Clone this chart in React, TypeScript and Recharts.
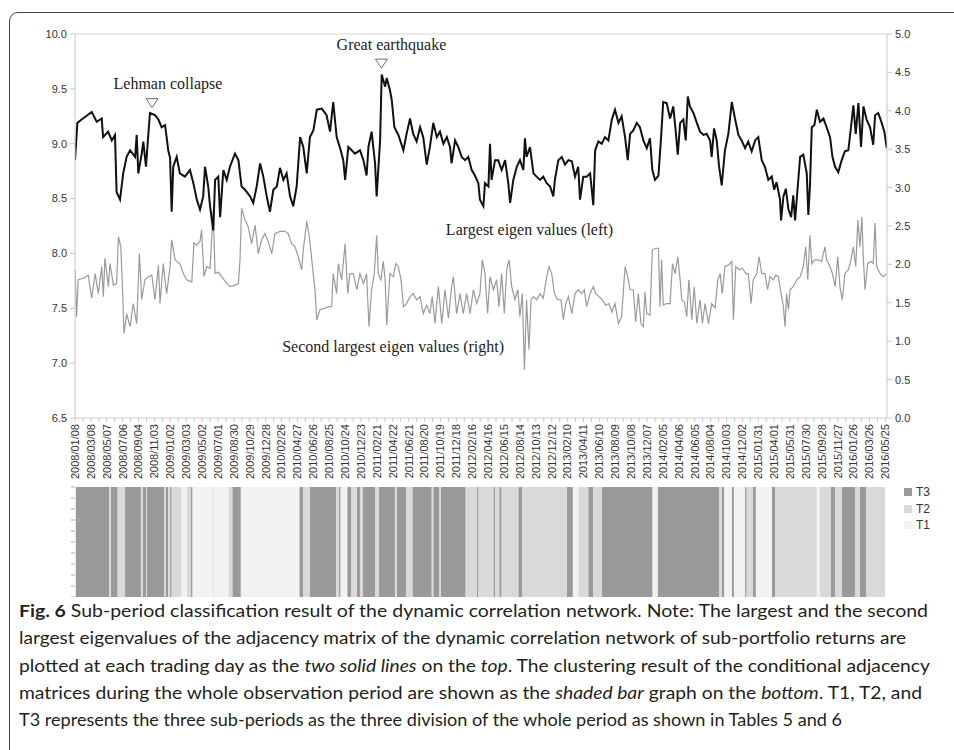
import React from "react"
import {
  LineChart,
  Line,
  ComposedChart,
  Area,
  XAxis,
  YAxis,
  ReferenceLine,
  ReferenceDot,
} from "recharts"

// x axis: calendar days counted from 2008/01/08
const DAY_MAX = 3066

const dateLabels = [
  "2008/01/08", "2008/03/08", "2008/05/07", "2008/07/06", "2008/09/04", "2008/11/03",
  "2009/01/02", "2009/03/03", "2009/05/02", "2009/07/01", "2009/08/30", "2009/10/29",
  "2009/12/28", "2010/02/26", "2010/04/27", "2010/06/26", "2010/08/25", "2010/10/24",
  "2010/12/23", "2011/02/21", "2011/04/22", "2011/06/21", "2011/08/20", "2011/10/19",
  "2011/12/18", "2012/02/16", "2012/04/16", "2012/06/15", "2012/08/14", "2012/10/13",
  "2012/12/12", "2013/02/10", "2013/04/11", "2013/06/10", "2013/08/09", "2013/10/08",
  "2013/12/07", "2014/02/05", "2014/04/06", "2014/06/05", "2014/08/04", "2014/10/03",
  "2014/12/02", "2015/01/31", "2015/04/01", "2015/05/31", "2015/07/30", "2015/09/28",
  "2015/11/27", "2016/01/26", "2016/03/26", "2016/05/25",
]

const leftTicks = [6.5, 7, 7.5, 8, 8.5, 9, 9.5, 10]
const rightTicks = [0, 0.5, 1, 1.5, 2, 2.5, 3, 3.5, 4, 4.5, 5]

// [day, value] largest eigenvalue (left axis)
const largestEigen: [number, number][] = [
  [0, 8.85], [9, 9.19], [30, 9.23], [63, 9.29], [82, 9.2], [101, 9.23], [106, 9.06], [125, 9.11],
  [139, 9.03], [151, 9.08], [157, 8.56], [170, 8.49], [182, 8.73], [195, 8.88], [208, 8.94],
  [227, 8.88], [233, 9.08], [239, 8.73], [252, 8.91], [258, 9.02], [268, 8.79], [277, 9.09],
  [283, 9.28], [302, 9.26], [315, 9.22], [327, 9.15], [340, 9.17], [346, 9.06], [352, 8.94],
  [359, 8.87], [365, 8.38], [371, 8.79], [384, 8.88], [396, 8.73], [415, 8.7], [434, 8.76],
  [447, 8.64], [460, 8.49], [472, 8.4], [484, 8.52], [491, 8.79], [503, 8.61], [510, 8.43],
  [522, 8.21], [529, 8.67], [541, 8.7], [548, 8.33], [560, 8.76], [573, 8.67], [585, 8.79],
  [604, 8.91], [617, 8.85], [629, 8.61], [642, 8.58], [661, 8.52], [673, 8.46], [686, 8.61],
  [699, 8.82], [711, 8.7], [724, 8.52], [736, 8.38], [749, 8.58], [762, 8.61], [774, 8.78],
  [787, 8.67], [799, 8.73], [812, 8.52], [824, 8.43], [837, 8.61], [850, 9.06], [862, 8.97],
  [875, 8.73], [887, 9.06], [900, 9.12], [913, 9.31], [932, 9.32], [950, 9.26], [963, 9.11],
  [975, 9.38], [988, 9.06], [1001, 8.96], [1013, 8.85], [1020, 8.67], [1032, 8.97], [1045, 8.94],
  [1057, 8.91], [1076, 8.94], [1089, 8.85], [1101, 8.71], [1108, 8.97], [1120, 9.11], [1133, 8.82],
  [1139, 8.52], [1152, 9.03], [1158, 9.63], [1171, 9.52], [1177, 9.6], [1189, 9.49], [1196, 9.4],
  [1206, 9.15], [1221, 9.08], [1240, 8.94], [1252, 9.09], [1265, 9.23], [1277, 9.09], [1290, 9.02],
  [1303, 9.15], [1315, 9.06], [1328, 8.81], [1340, 8.97], [1353, 9.19], [1366, 9.06], [1378, 9.11],
  [1391, 9.0], [1404, 9.06], [1416, 8.97], [1422, 8.82], [1435, 9.03], [1447, 8.97], [1460, 8.88],
  [1473, 8.85], [1485, 8.88], [1498, 8.76], [1510, 8.71], [1523, 8.64], [1529, 8.49], [1542, 8.43],
  [1548, 8.64], [1561, 8.61], [1567, 9.0], [1573, 8.67], [1586, 8.85], [1598, 8.85], [1611, 8.76],
  [1624, 8.85], [1636, 8.64], [1643, 8.46], [1655, 8.67], [1668, 8.79], [1680, 8.85], [1693, 8.76],
  [1699, 9.05], [1705, 8.88], [1718, 8.97], [1731, 8.73], [1743, 8.7], [1756, 8.67], [1768, 8.7],
  [1781, 8.64], [1794, 8.61], [1806, 8.52], [1812, 8.67], [1825, 8.85], [1838, 8.88], [1850, 8.81],
  [1863, 8.85], [1876, 8.84], [1888, 8.7], [1900, 8.79], [1907, 8.49], [1919, 8.7], [1932, 8.7],
  [1945, 8.73], [1957, 8.44], [1964, 8.94], [1976, 9.02], [1989, 9.0], [2001, 9.06], [2014, 9.03],
  [2027, 9.22], [2039, 9.31], [2052, 9.19], [2064, 9.25], [2077, 9.06], [2087, 8.85], [2096, 9.09],
  [2108, 9.12], [2121, 9.19], [2133, 9.15], [2146, 9.03], [2159, 8.96], [2171, 9.05], [2180, 8.76],
  [2190, 8.67], [2203, 8.71], [2213, 9.06], [2221, 9.38], [2234, 9.37], [2247, 9.23], [2259, 9.34],
  [2268, 9.12], [2276, 8.9], [2285, 9.19], [2297, 9.22], [2306, 9.03], [2314, 9.43], [2322, 9.34],
  [2335, 9.28], [2348, 9.19], [2360, 9.11], [2373, 9.08], [2385, 9.09], [2398, 9.03], [2404, 8.88],
  [2413, 9.14], [2423, 9.03], [2432, 8.79], [2442, 8.62], [2454, 8.94], [2467, 9.09], [2480, 9.38],
  [2492, 9.23], [2505, 9.08], [2517, 9.03], [2530, 8.96], [2542, 9.02], [2555, 8.93], [2568, 9.03],
  [2580, 9.06], [2593, 8.85], [2605, 8.79], [2618, 8.67], [2631, 8.7], [2640, 8.58], [2649, 8.65],
  [2662, 8.49], [2666, 8.3], [2675, 8.52], [2684, 8.59], [2694, 8.4], [2704, 8.33], [2712, 8.53],
  [2719, 8.3], [2729, 8.61], [2738, 8.88], [2750, 8.9], [2763, 8.73], [2769, 8.35], [2775, 8.61],
  [2782, 9.15], [2792, 9.17], [2801, 9.31], [2813, 9.2], [2826, 9.23], [2838, 9.15], [2851, 9.06],
  [2860, 8.88], [2870, 8.79], [2882, 8.74], [2895, 8.85], [2907, 8.93], [2920, 8.94], [2930, 9.15],
  [2939, 9.35], [2948, 9.09], [2958, 9.37], [2968, 8.97], [2977, 9.34], [2989, 9.22], [3002, 9.15],
  [3014, 8.99], [3021, 9.26], [3033, 9.28], [3046, 9.19], [3056, 9.11], [3065, 8.96],
]

// [day, value] second largest eigenvalue (right axis)
const secondEigen: [number, number][] = [
  [0, 1.93], [6, 1.32], [12, 1.8], [31, 1.82], [50, 1.86], [63, 1.56], [76, 1.88], [88, 1.62],
  [101, 1.97], [107, 1.58], [113, 2.08], [126, 1.71], [132, 2.01], [145, 1.73], [157, 1.75],
  [164, 2.36], [173, 2.23], [180, 1.62], [185, 1.1], [195, 1.36], [208, 1.19], [220, 1.49],
  [233, 1.23], [243, 2.14], [252, 1.54], [264, 1.8], [277, 1.84], [290, 1.86], [302, 1.54],
  [315, 1.99], [321, 1.49], [333, 2.01], [346, 1.62], [359, 1.97], [365, 2.32], [378, 2.06],
  [396, 2.01], [409, 1.88], [422, 1.8], [441, 1.77], [449, 2.28], [460, 2.25], [472, 2.3],
  [478, 2.45], [487, 1.84], [497, 1.97], [510, 1.95], [522, 2.71], [529, 1.88], [541, 1.9],
  [554, 1.84], [573, 1.75], [585, 1.71], [604, 1.73], [617, 1.75], [623, 2.06], [629, 2.73],
  [642, 2.58], [654, 2.49], [667, 2.27], [680, 2.51], [692, 2.14], [705, 2.32], [717, 2.4],
  [730, 2.3], [743, 2.14], [755, 2.4], [774, 2.43], [793, 2.43], [805, 2.4], [818, 2.27],
  [831, 2.23], [843, 2.1], [856, 1.93], [862, 2.19], [875, 2.56], [885, 2.36], [894, 2.06],
  [906, 1.67], [913, 1.28], [925, 1.41], [944, 1.43], [957, 1.45], [969, 1.45], [975, 1.88],
  [988, 1.62], [994, 2.01], [1007, 1.8], [1020, 2.27], [1030, 1.62], [1038, 1.88], [1051, 1.88],
  [1064, 1.67], [1076, 1.88], [1089, 1.75], [1101, 1.88], [1110, 1.19], [1120, 1.67], [1130, 1.88],
  [1139, 2.38], [1145, 1.88], [1155, 1.8], [1164, 2.04], [1171, 1.8], [1177, 1.21], [1189, 1.88],
  [1202, 1.84], [1211, 2.01], [1221, 1.97], [1231, 1.8], [1240, 1.45], [1252, 1.49], [1265, 1.58],
  [1277, 1.62], [1290, 1.54], [1303, 1.58], [1315, 1.36], [1328, 1.47], [1340, 1.36], [1349, 1.58],
  [1359, 1.23], [1372, 1.71], [1385, 1.23], [1397, 1.67], [1410, 1.3], [1422, 1.71], [1429, 1.84],
  [1441, 1.36], [1454, 1.62], [1466, 1.36], [1479, 1.62], [1492, 1.36], [1504, 1.67], [1517, 1.49],
  [1529, 1.62], [1538, 2.06], [1548, 1.88], [1558, 1.36], [1567, 1.84], [1580, 1.67], [1592, 1.8],
  [1601, 1.45], [1611, 1.88], [1621, 1.36], [1630, 1.93], [1639, 2.06], [1649, 1.71], [1661, 1.54],
  [1672, 1.67], [1680, 1.32], [1689, 1.62], [1697, 0.63], [1705, 1.54], [1714, 0.89], [1722, 1.54],
  [1731, 1.58], [1743, 1.54], [1756, 1.62], [1768, 1.56], [1781, 1.84], [1790, 1.97], [1800, 1.88],
  [1810, 1.62], [1823, 1.54], [1835, 1.54], [1844, 1.28], [1853, 1.49], [1863, 1.58], [1876, 1.36],
  [1888, 1.62], [1900, 1.67], [1913, 1.62], [1923, 1.67], [1932, 1.45], [1945, 1.62], [1957, 1.71],
  [1966, 1.62], [1979, 1.58], [1991, 1.54], [2004, 1.47], [2016, 1.49], [2027, 1.38], [2039, 1.49],
  [2052, 1.23], [2064, 1.32], [2077, 1.97], [2087, 1.84], [2096, 1.67], [2108, 1.67], [2117, 1.25],
  [2127, 1.62], [2137, 1.23], [2146, 1.19], [2152, 1.64], [2159, 1.36], [2171, 1.34], [2180, 2.19],
  [2193, 2.21], [2203, 2.21], [2209, 1.45], [2215, 2.06], [2221, 1.47], [2234, 1.49], [2247, 1.49],
  [2256, 2.01], [2266, 1.88], [2276, 2.1], [2285, 1.8], [2291, 1.54], [2301, 1.51], [2310, 1.32],
  [2318, 1.8], [2329, 1.28], [2338, 1.71], [2348, 1.23], [2360, 1.54], [2369, 1.23], [2379, 1.49],
  [2392, 1.23], [2404, 1.49], [2417, 1.43], [2427, 1.8], [2436, 1.88], [2444, 1.62], [2454, 1.97],
  [2467, 1.99], [2480, 2.04], [2486, 1.28], [2495, 1.97], [2507, 1.93], [2520, 1.95], [2533, 1.88],
  [2542, 1.88], [2553, 1.49], [2561, 1.8], [2574, 1.88], [2583, 2.1], [2593, 1.88], [2605, 1.88],
  [2615, 1.67], [2624, 1.84], [2637, 1.8], [2646, 1.86], [2656, 1.84], [2666, 1.62], [2675, 1.45],
  [2681, 1.19], [2687, 1.62], [2694, 1.41], [2700, 1.67], [2712, 1.71], [2725, 1.8], [2738, 1.84],
  [2750, 1.97], [2759, 2.23], [2767, 1.8], [2775, 2.38], [2782, 2.01], [2792, 2.06], [2807, 2.06],
  [2819, 2.04], [2832, 2.23], [2838, 2.06], [2851, 1.97], [2860, 1.88], [2870, 1.71], [2880, 2.1],
  [2889, 1.69], [2897, 1.54], [2907, 1.88], [2920, 1.93], [2930, 2.06], [2939, 2.23], [2948, 1.97],
  [2956, 2.58], [2964, 2.23], [2971, 2.62], [2977, 2.06], [2983, 1.67], [2993, 2.01], [3006, 2.04],
  [3014, 2.01], [3021, 2.54], [3027, 1.97], [3040, 1.88], [3052, 1.84], [3065, 1.88],
]

// sub-period classes: start day of each run and its class
const periodStarts = [
  3, 130, 136, 161, 189, 249, 256, 268, 272, 336, 342, 352, 359, 365, 403, 422, 438, 444, 522, 526,
  579, 594, 626, 629, 847, 862, 887, 986, 997, 1003, 1028, 1042, 1064, 1076, 1086, 1133, 1148, 1208,
  1215, 1250, 1274, 1347, 1353, 1376, 1381, 1475, 1517, 1523, 1580, 1586, 1602, 1611, 1674, 1689,
  1857, 1880, 1900, 1938, 1957, 1989, 2181, 2200, 2433, 2442, 2452, 2480, 2488, 2530, 2536, 2559,
  2571, 2631, 2643, 2801, 2811, 2853, 2870, 2895, 2945, 2964, 2987,
]
const periodClasses = [
  "T3", "T2", "T3", "T2", "T3", "T2", "T3", "T2", "T3", "T2", "T3", "T2", "T3", "T2", "T1", "T2", "T3", "T1", "T2", "T1",
  "T2", "T3", "T2", "T1", "T3", "T2", "T3", "T2", "T3", "T1", "T3", "T2", "T3", "T2", "T3", "T2", "T3", "T2",
  "T3", "T2", "T3", "T2", "T3", "T2", "T3", "T2", "T3", "T2", "T3", "T2", "T3", "T2", "T3", "T2",
  "T3", "T1", "T2", "T3", "T2", "T3", "T1", "T3", "T2", "T3", "T1", "T3", "T1", "T3", "T2", "T3",
  "T1", "T3", "T2", "T1", "T2", "T3", "T2", "T3", "T2", "T3", "T2",
]
const periodEnd = 3059

const classNames = ["T3", "T2", "T1"]
const classColors: Record<string, string> = { T3: "#999999", T2: "#d9d9d9", T1: "#f2f2f2" }

// event markers on the largest eigenvalue line
const events = [
  { name: "Lehman collapse", day: 291, value: 9.37, textDay: 351, textValue: 9.5 },
  { name: "Great earthquake", day: 1157, value: 9.73, textDay: 1195, textValue: 9.85 },
]

const largestData = largestEigen.map(([d, v]) => ({ d, v }))
const secondData = secondEigen.map(([d, v]) => ({ d, v }))

const periodData = [...periodStarts, periodEnd].map((d, i) => {
  const cls = periodClasses[Math.min(i, periodClasses.length - 1)]
  return { d, T3: cls === "T3" ? 1 : 0, T2: cls === "T2" ? 1 : 0, T1: cls === "T1" ? 1 : 0 }
})

const xTicks = dateLabels.flatMap((_, i) => [i * 60, i * 60 + 30]).filter((t) => t <= DAY_MAX)
const stripTicks = [0, 0.1, 0.2, 0.3, 0.4, 0.5, 0.6, 0.7, 0.8, 0.9, 1]

const SANS = "'Liberation Sans', Arial, sans-serif"
const SERIF = "'Liberation Serif', 'Times New Roman', serif"
const axisStroke = "#c8c8c8"

const DateTick = (props: any) => {
  const { x, y, payload } = props
  const day = payload.value as number
  if (day % 60 !== 0) return <g />
  return (
    <text
      transform={`translate(${x},${y}) rotate(-90)`}
      textAnchor="end"
      dy="0.35em"
      fontSize={11}
      fontFamily={SANS}
      fill="#333"
    >
      {dateLabels[day / 60]}
    </text>
  )
}

const EmptyTick = () => <g />

const triangleShape = (p: any) => (
  <path
    d={`M${p.cx - 6},${p.cy - 4.5}L${p.cx + 6},${p.cy - 4.5}L${p.cx},${p.cy + 4.5}Z`}
    fill="#fff"
    stroke="#6e6e6e"
    strokeWidth={1}
  />
)

const textShape = (label: string) => (p: any) => (
  <text x={p.cx} y={p.cy} textAnchor="middle" fontSize={16} fontFamily={SERIF} fill="#222">
    {label}
  </text>
)

const captionLines: { width: number; parts: { t: string; b?: boolean; i?: boolean }[] }[] = [
  {
    width: 909,
    parts: [
      { t: "Fig. 6", b: true },
      { t: " Sub-period classification result of the dynamic correlation network. Note: The largest and the second" },
    ],
  },
  {
    width: 887,
    parts: [{ t: "largest eigenvalues of the adjacency matrix of the dynamic correlation network of sub-portfolio returns are" }],
  },
  {
    width: 911,
    parts: [
      { t: "plotted at each trading day as the " },
      { t: "two solid lines", i: true },
      { t: " on the " },
      { t: "top", i: true },
      { t: ". The clustering result of the conditional adjacency" },
    ],
  },
  {
    width: 903,
    parts: [
      { t: "matrices during the whole observation period are shown as the " },
      { t: "shaded bar", i: true },
      { t: " graph on the " },
      { t: "bottom", i: true },
      { t: ". T1, T2, and" },
    ],
  },
  {
    width: 823,
    parts: [{ t: "T3 represents the three sub-periods as the three division of the whole period as shown in Tables 5 and 6" }],
  },
]

export default function App() {
  return (
    <div style={{ position: "absolute", left: 0, top: 0, width: 954, height: 750, overflow: "hidden", background: "#fff" }}>
      {/* figure frame */}
      <div
        style={{
          position: "absolute",
          left: 9,
          top: 12,
          width: 1000,
          height: 800,
          border: "1.5px solid #444",
          borderRadius: 9,
          boxSizing: "border-box",
        }}
      />

      {/* eigenvalue lines */}
      <div style={{ position: "absolute", left: 0, top: 0 }}>
        <LineChart width={954} height={483} margin={{ top: 34, right: 7, bottom: 0, left: 0 }}>
          <XAxis
            type="number"
            dataKey="d"
            domain={[0, DAY_MAX]}
            ticks={xTicks}
            interval={0}
            tick={DateTick}
            tickSize={4}
            tickMargin={2}
            tickLine={{ stroke: axisStroke }}
            axisLine={{ stroke: axisStroke }}
            height={65}
            allowDataOverflow
          />
          <YAxis
            yAxisId="left"
            domain={[6.5, 10]}
            ticks={leftTicks}
            interval={0}
            tickFormatter={(v: number) => v.toFixed(1)}
            width={75}
            tickSize={5}
            tickMargin={3}
            tick={{ fontSize: 11, fontFamily: SANS, fill: "#333" }}
            tickLine={{ stroke: axisStroke }}
            axisLine={{ stroke: axisStroke }}
            allowDataOverflow
          />
          <YAxis
            yAxisId="right"
            orientation="right"
            domain={[0, 5]}
            ticks={rightTicks}
            interval={0}
            tickFormatter={(v: number) => v.toFixed(1)}
            width={60}
            tickSize={5}
            tickMargin={3}
            tick={{ fontSize: 11, fontFamily: SANS, fill: "#333" }}
            tickLine={{ stroke: axisStroke }}
            axisLine={{ stroke: axisStroke }}
            allowDataOverflow
          />
          <ReferenceLine yAxisId="left" y={10} stroke="#d6d6d6" />
          <Line
            yAxisId="right"
            data={secondData}
            dataKey="v"
            type="linear"
            stroke="#9a9a9a"
            strokeWidth={1.2}
            dot={false}
            isAnimationActive={false}
          />
          <Line
            yAxisId="left"
            data={largestData}
            dataKey="v"
            type="linear"
            stroke="#111"
            strokeWidth={2}
            dot={false}
            isAnimationActive={false}
          />
          {events.map((e) => (
            <ReferenceDot key={e.name} yAxisId="left" x={e.day} y={e.value} shape={triangleShape} />
          ))}
          {events.map((e) => (
            <ReferenceDot
              key={e.name + "-label"}
              yAxisId="left"
              x={e.textDay}
              y={e.textValue}
              shape={textShape(e.name)}
            />
          ))}
          <ReferenceDot yAxisId="left" x={1716} y={8.17} shape={textShape("Largest eigen values (left)")} />
          <ReferenceDot yAxisId="right" x={1201} y={0.86} shape={textShape("Second largest eigen values (right)")} />
        </LineChart>
      </div>

      {/* sub-period classification strip */}
      <div style={{ position: "absolute", left: 0, top: 470 }}>
        <ComposedChart width={954} height={127} data={periodData} margin={{ top: 17, right: 67, bottom: 0, left: 0 }}>
          <XAxis type="number" dataKey="d" domain={[0, DAY_MAX]} hide allowDataOverflow />
          <YAxis
            domain={[0, 1]}
            ticks={stripTicks}
            interval={0}
            width={75}
            tick={EmptyTick}
            tickSize={4}
            tickLine={{ stroke: "#aaa" }}
            axisLine={false}
          />
          {classNames.map((c) => (
            <Area
              key={c}
              type="stepAfter"
              dataKey={c}
              stroke="none"
              fill={classColors[c]}
              fillOpacity={1}
              isAnimationActive={false}
              dot={false}
              activeDot={false}
            />
          ))}
        </ComposedChart>
      </div>

      {/* legend */}
      <div style={{ position: "absolute", left: 904, top: 484, fontFamily: SANS, fontSize: 12, color: "#333" }}>
        {classNames.map((c) => (
          <div key={c} style={{ display: "flex", alignItems: "center", height: 16.5 }}>
            <span style={{ display: "inline-block", width: 8, height: 8, background: classColors[c], marginRight: 4 }} />
            {c}
          </div>
        ))}
      </div>

      {/* caption */}
      <svg style={{ position: "absolute", left: 0, top: 590 }} width={954} height={160}>
        {captionLines.map((line, i) => (
          <text
            key={i}
            x={19}
            y={27 + i * 27.3}
            textLength={line.width}
            lengthAdjust="spacingAndGlyphs"
            fontFamily="Lato, 'Open Sans', sans-serif"
            fontSize={17}
            fill="#231f20"
            style={{ whiteSpace: "pre" }}
          >
            {line.parts.map((p, j) => (
              <tspan key={j} fontWeight={p.b ? 700 : 400} fontStyle={p.i ? "italic" : "normal"}>
                {p.t}
              </tspan>
            ))}
          </text>
        ))}
      </svg>
    </div>
  )
}
